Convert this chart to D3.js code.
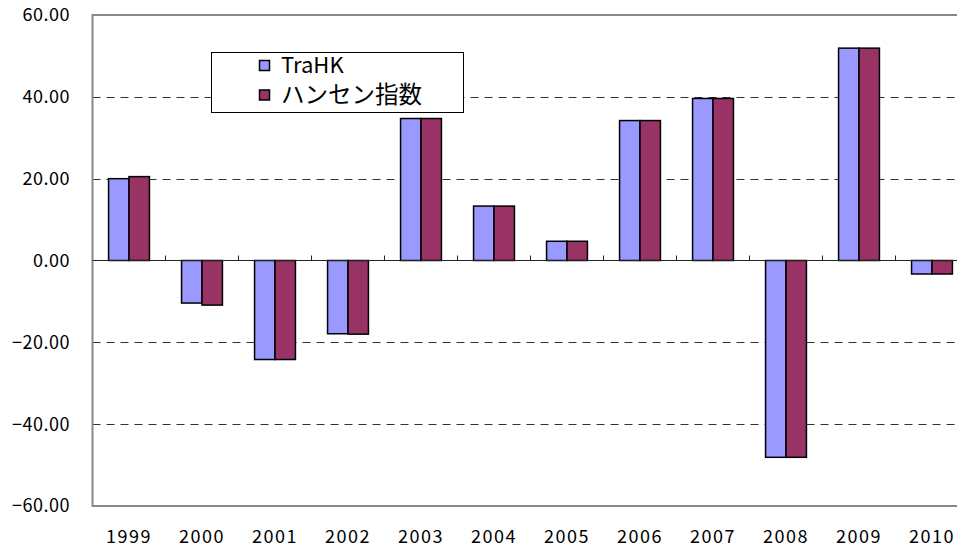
<!DOCTYPE html>
<html>
<head>
<meta charset="utf-8">
<script src="https://cdn.jsdelivr.net/npm/d3@7"></script>
<style>
  body { margin: 0; background: #fff; }
  svg { display: block; font-family: "Noto Sans CJK JP", "Noto Sans", sans-serif; }
</style>
</head>
<body>
<svg id="chart" width="957" height="549"></svg>
<script>
// chart data
const years = ['1999', '2000', '2001', '2002', '2003', '2004', '2005', '2006', '2007', '2008', '2009', '2010'];
const traHK = [20.0, -10.4, -24.2, -17.9, 34.7, 13.3, 4.7, 34.2, 39.6, -48.1, 51.9, -3.3];
const hangSeng = [20.5, -10.9, -24.2, -18.0, 34.7, 13.3, 4.7, 34.2, 39.6, -48.1, 51.9, -3.3];
const seriesNames = ['TraHK', 'ハンセン指数'];
const yTicks = [-60, -40, -20, 0, 20, 40, 60];

const colors = ['#9999ff', '#993366'];

const svg = d3.select('#chart');

const plotLeft = 92.5, plotRight = 968.5, plotTop = 15, plotBottom = 506;

const x = d3.scaleBand().domain(years).range([plotLeft, plotRight]).padding(0);
const inner = d3.scaleBand().domain([0, 1]).range([0, x.bandwidth() * 0.56]);
const groupOffset = (x.bandwidth() - inner.range()[1]) / 2;
const y = d3.scaleLinear().domain([-60, 60]).range([plotBottom, plotTop]);

// dashed gridlines
svg.append('g')
    .selectAll('line')
    .data(yTicks.filter(d => d !== 0 && Math.abs(d) !== 60))
    .enter().append('line')
    .attr('x1', plotLeft).attr('x2', plotRight)
    .attr('y1', d => Math.round(y(d)) + 0.5)
    .attr('y2', d => Math.round(y(d)) + 0.5)
    .attr('stroke', '#333')
    .attr('stroke-width', 1)
    .attr('stroke-dasharray', '8,6');

// plot frame (top / bottom / left)
svg.append('rect')
    .attr('x', plotLeft).attr('y', plotTop)
    .attr('width', plotRight - plotLeft).attr('height', plotBottom - plotTop)
    .attr('fill', 'none')
    .attr('stroke', '#888')
    .attr('stroke-width', 2);

// bars
const rows = years.map((yr, i) => ({ year: yr, values: [traHK[i], hangSeng[i]] }));

const groups = svg.append('g')
    .selectAll('g')
    .data(rows)
    .enter().append('g')
    .attr('transform', d => `translate(${x(d.year) + groupOffset},0)`);

groups.selectAll('rect')
    .data(d => d.values.map((v, k) => ({ k, v })))
    .enter().append('rect')
    .attr('x', d => inner(d.k))
    .attr('width', inner.bandwidth())
    .attr('y', d => y(Math.max(0, d.v)))
    .attr('height', d => Math.abs(y(d.v) - y(0)))
    .attr('fill', d => colors[d.k])
    .attr('stroke', '#000')
    .attr('stroke-width', 1.5);

// zero axis with category ticks
const xAxis = svg.append('g')
    .attr('transform', `translate(0,${y(0)})`);
xAxis.append('line')
    .attr('x1', plotLeft).attr('x2', plotRight)
    .attr('stroke', '#222').attr('stroke-width', 1);
xAxis.selectAll('.tick')
    .data(years.slice(1))
    .enter().append('line')
    .attr('class', 'tick')
    .attr('x1', d => x(d)).attr('x2', d => x(d))
    .attr('y1', 0).attr('y2', -5)
    .attr('stroke', '#222');

// year labels at the bottom
svg.append('g')
    .selectAll('text')
    .data(years)
    .enter().append('text')
    .attr('x', d => x(d) + x.bandwidth() / 2)
    .attr('y', 543)
    .attr('text-anchor', 'middle')
    .attr('font-size', 18)
    .attr('letter-spacing', 1.5)
    .attr('fill', '#000')
    .text(d => d);

// y labels
svg.append('g')
    .selectAll('text')
    .data(yTicks)
    .enter().append('text')
    .attr('x', 70)
    .attr('y', d => y(d))
    .attr('dy', '0.36em')
    .attr('text-anchor', 'end')
    .attr('font-size', 18)
    .attr('letter-spacing', 0.5)
    .attr('fill', '#000')
    .text(d => (d < 0 ? '\u2212' : '') + Math.abs(d).toFixed(2));

// legend
const legend = svg.append('g');
legend.append('rect')
    .attr('x', 211.5).attr('y', 52.5)
    .attr('width', 252).attr('height', 60)
    .attr('fill', '#fff')
    .attr('stroke', '#000')
    .attr('stroke-width', 1);

seriesNames.forEach((name, i) => {
    const ly = 60.5 + i * 29.5;
    legend.append('rect')
        .attr('x', 259.5).attr('y', ly)
        .attr('width', 10).attr('height', 10)
        .attr('fill', colors[i])
        .attr('stroke', '#000')
        .attr('stroke-width', 1.5);
    legend.append('text')
        .attr('x', 281)
        .attr('y', ly + 5)
        .attr('dy', '0.36em')
        .attr('font-size', i === 0 ? 22 : 23.5)
        .attr('fill', '#000')
        .text(name);
});
</script>
</body>
</html>
